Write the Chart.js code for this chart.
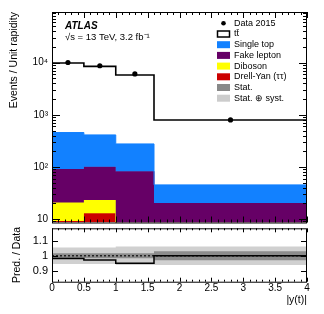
<!DOCTYPE html>
<html>
<head>
<meta charset="utf-8">
<script src="https://cdn.jsdelivr.net/npm/chart.js@4.4.1/dist/chart.umd.min.js"></script>
<style>
  html, body { margin: 0; padding: 0; background: #fff; }
  #wrap { position: relative; width: 324px; height: 314px; }
  canvas { position: absolute; left: 0; top: 0; }
</style>
</head>
<body>
<div id="wrap">
  <canvas id="mainChart" width="324" height="314"></canvas>
  <canvas id="ratioChart" width="324" height="314"></canvas>
</div>
<script>
// bins in |y(t)|
const binEdges = [0, 0.5, 1, 1.6, 4];
const binCenters = [0.25, 0.75, 1.3, 2.8];

// events / unit rapidity
const dataCounts = [10100, 8750, 6100, 800];
const ttbar      = [9440, 8090, 5520, 750];
const singleTop  = [366, 311, 194, 25];
const fakeLepton = [70.6, 77.8, 77.7, 16.3];
const diboson    = [11.7, 10.3, 3, 2.5];
const drellYan   = [9.2, 12.9, 2, 1.5];

// ratio panel
const ratio   = [0.982, 0.972, 0.95, 1.0];
const statErr = [0.017, 0.017, 0.017, 0.03];
const totErr  = [0.055, 0.055, 0.062, 0.062];

// tick labels
const yTickValues = [10, 100, 1000, 10000];
const yTickLabels = ['10', '10\u00b2', '10\u00b3', '10\u2074'];
const rTickValues = [0.9, 1, 1.1];
const rTickLabels = ['0.9', '1', '1.1'];
const xTickValues = [0, 0.5, 1, 1.5, 2, 2.5, 3, 3.5, 4];
const xTickLabels = ['0', '0.5', '1', '1.5', '2', '2.5', '3', '3.5', '4'];

const FONT = '"Liberation Sans", Arial, Helvetica, sans-serif';
Chart.defaults.font.family = FONT;
Chart.defaults.color = '#000';

//stepped points: value of bin i held from edge i to edge i+1
function steps(values) {
  return binEdges.map((x, i) => ({ x: x, y: values[Math.min(i, values.length - 1)] }));
}
function addArr(a, b) { return a.map((v, i) => v + b[i]); }

const redTop = drellYan;
const yellowTop = addArr(redTop, diboson);
const purpleTop = addArr(yellowTop, fakeLepton);
const blueTop = addArr(purpleTop, singleTop);
const totalTop = addArr(blueTop, ttbar);

const YMIN = 8.6, YMAX = 94000;

function fillSet(values, color, fill, order) {
  return {
    data: steps(values), stepped: true, fill: fill, order: order,
    backgroundColor: color, borderColor: color, borderWidth: 1,
    pointRadius: 0
  };
}

// frame with inside ticks on all four sides
function framePlugin(getTicks) {
  return {
    id: 'frame',
    afterDatasetsDraw(chart) {
      const { ctx, chartArea: a } = chart;
      const x = chart.scales.x, y = chart.scales.y;
      const t = getTicks();
      ctx.save();
      ctx.strokeStyle = '#000';
      ctx.lineWidth = 1;
      ctx.beginPath();
      t.x.forEach(([v, len]) => {
        const px = Math.round(x.getPixelForValue(v)) + 0.5;
        ctx.moveTo(px, a.bottom); ctx.lineTo(px, a.bottom - len);
        ctx.moveTo(px, a.top); ctx.lineTo(px, a.top + len);
      });
      t.y.forEach(([v, len]) => {
        const py = Math.round(y.getPixelForValue(v)) + 0.5;
        ctx.moveTo(a.left, py); ctx.lineTo(a.left + len, py);
        ctx.moveTo(a.right, py); ctx.lineTo(a.right - len, py);
      });
      ctx.stroke();
      ctx.strokeRect(a.left + 0.5, a.top + 0.5, a.width - 1, a.height);
      ctx.restore();
    }
  };
}

function xTicksList(major, minor) {
  const out = [];
  for (let k = 0; k <= 40; k++) out.push([k / 10, k % 5 === 0 ? major : minor]);
  return out;
}

//legend and labels drawn in the main pad
const legendItems = [
  { label: 'Data 2015', type: 'dot' },
  { label: 't\u0074\u0304', type: 'box', fill: '#ffffff', stroke: '#000' },
  { label: 'Single top', type: 'box', fill: '#1281ff' },
  { label: 'Fake lepton', type: 'box', fill: '#660066' },
  { label: 'Diboson', type: 'box', fill: '#ffff00' },
  { label: 'Drell-Yan (\u03c4\u03c4)', type: 'box', fill: '#cc0000' },
  { label: 'Stat.', type: 'box', fill: '#888888' },
  { label: 'Stat. \u2295 syst.', type: 'box', fill: '#cccccc' }
];

const labelPlugin = {
  id: 'labels',
  afterDraw(chart) {
    const ctx = chart.ctx;
    ctx.save();
    ctx.textBaseline = 'middle';
    ctx.fillStyle = '#000';
    ctx.font = 'italic bold 10px "Liberation Sans Narrow", ' + FONT;
    ctx.fillText('ATLAS', 65, 26);
    ctx.font = '9.5px ' + FONT;
    ctx.fillText('\u221as = 13 TeV, 3.2 fb\u207b\u00b9', 65, 37.5);

    ctx.font = '9px ' + FONT;
    legendItems.forEach((it, i) => {
      const cy = 23.3 + i * 10.7;
      if (it.type === 'dot') {
        ctx.beginPath();
        ctx.arc(223.5, cy, 2.3, 0, Math.PI * 2);
        ctx.fillStyle = '#000';
        ctx.fill();
      } else {
        ctx.fillStyle = it.fill;
        ctx.fillRect(217, cy - 3.5, 13, 7);
        if (it.stroke) {
          ctx.strokeStyle = it.stroke;
          ctx.lineWidth = 1.5;
          ctx.strokeRect(217.5, cy - 3, 12, 6);
        }
      }
      ctx.fillStyle = '#000';
      ctx.fillText(it.label, 234, cy);
    });
    ctx.restore();
  }
};

const mainChart = new Chart(document.getElementById('mainChart'), {
  type: 'line',
  data: {
    datasets: [
      fillSet(redTop, '#cc0000', 'start', 6),
      fillSet(yellowTop, '#ffff00', '-1', 5),
      fillSet(purpleTop, '#660066', '-1', 4),
      fillSet(blueTop, '#1281ff', '-1', 3),
      {
        data: steps(totalTop), stepped: true, fill: false, order: 2,
        borderColor: '#000', borderWidth: 1.6, pointRadius: 0
      },
      {
        data: binCenters.map((x, i) => ({ x: x, y: dataCounts[i] })),
        showLine: false, order: 1,
        pointRadius: 2.6, pointBackgroundColor: '#000', pointBorderColor: '#000', pointBorderWidth: 0
      }
    ]
  },
  options: {
    responsive: false,
    animation: false,
    devicePixelRatio: 1,
    layout: { padding: { left: 0, right: 17, top: 12, bottom: 91.5 } },
    plugins: { legend: { display: false }, tooltip: { enabled: false } },
    scales: {
      x: { type: 'linear', min: 0, max: 4, display: false },
      y: {
        type: 'logarithmic', min: YMIN, max: YMAX,
        afterFit: (s) => { s.width = 52; },
        afterBuildTicks: (s) => { s.ticks = yTickValues.map(v => ({ value: v })); },
        grid: { display: false, drawTicks: false },
        border: { display: false },
        ticks: {
          autoSkip: false, padding: 4, font: { size: 10 },
          callback: (v) => {
            const i = yTickValues.indexOf(v);
            return i >= 0 ? yTickLabels[i] : '';
          }
        },
        title: {
          display: true, text: 'Events / Unit rapidity', align: 'end',
          font: { size: 10.5 }, padding: { top: 7.4, bottom: 0 }
        }
      }
    }
  },
  plugins: [
    framePlugin(() => {
      const y = [];
      for (let d = 0; d <= 4; d++) {
        for (let m = 1; m <= 9; m++) {
          const v = m * Math.pow(10, d);
          if (v > YMIN && v < YMAX) y.push([v, m === 1 ? 8 : 4]);
        }
      }
      return { x: xTicksList(6, 3), y: y };
    }),
    labelPlugin
  ]
});

function bandSet(values, color, fill, order) {
  return {
    data: steps(values), stepped: true, fill: fill, order: order,
    backgroundColor: color, borderColor: 'rgba(0,0,0,0)', borderWidth: 0,
    pointRadius: 0
  };
}

const ratioChart = new Chart(document.getElementById('ratioChart'), {
  type: 'line',
  data: {
    datasets: [
      bandSet(totErr.map(e => 1 - e), '#d0d0d0', false, 6),
      bandSet(totErr.map(e => 1 + e), '#d0d0d0', '-1', 5),
      bandSet(statErr.map(e => 1 - e), '#8c8c8c', false, 4),
      bandSet(statErr.map(e => 1 + e), '#8c8c8c', '-1', 3),
      {
        data: [{ x: 0, y: 1 }, { x: 4, y: 1 }], order: 2, fill: false,
        borderColor: '#222', borderWidth: 1.5, borderDash: [2, 2], pointRadius: 0
      },
      {
        data: steps(ratio), stepped: true, fill: false, order: 1,
        borderColor: '#000', borderWidth: 1.5, pointRadius: 0
      }
    ]
  },
  options: {
    responsive: false,
    animation: false,
    devicePixelRatio: 1,
    layout: { padding: { left: 0, right: 17, top: 228.3, bottom: 0 } },
    plugins: { legend: { display: false }, tooltip: { enabled: false } },
    scales: {
      x: {
        type: 'linear', min: 0, max: 4,
        afterFit: (s) => { s.height = 32.3; },
        afterBuildTicks: (s) => { s.ticks = xTickValues.map(v => ({ value: v })); },
        grid: { display: false, drawTicks: false },
        border: { display: false },
        ticks: {
          autoSkip: false, maxRotation: 0, padding: 1, font: { size: 10 },
          callback: (v) => {
            const i = xTickValues.indexOf(v);
            return i >= 0 ? xTickLabels[i] : '';
          }
        },
        title: {
          display: true, text: '|y(t)|', align: 'end',
          font: { size: 10.5 }, padding: { top: 0, bottom: 7.4 }
        }
      },
      y: {
        type: 'linear', min: 0.827, max: 1.183,
        afterFit: (s) => { s.width = 52; },
        afterBuildTicks: (s) => { s.ticks = rTickValues.map(v => ({ value: v })); },
        grid: { display: false, drawTicks: false },
        border: { display: false },
        ticks: {
          autoSkip: false, padding: 4, font: { size: 11 },
          callback: (v) => {
            const i = rTickValues.indexOf(v);
            return i >= 0 ? rTickLabels[i] : '';
          }
        },
        title: {
          display: true, text: 'Pred. / Data',
          font: { size: 10.5 }, padding: { top: 10.5, bottom: 0 }
        }
      }
    }
  },
  plugins: [
    framePlugin(() => ({ x: xTicksList(4, 2), y: rTickValues.map(v => [v, 6]) }))
  ]
});
</script>
</body>
</html>
